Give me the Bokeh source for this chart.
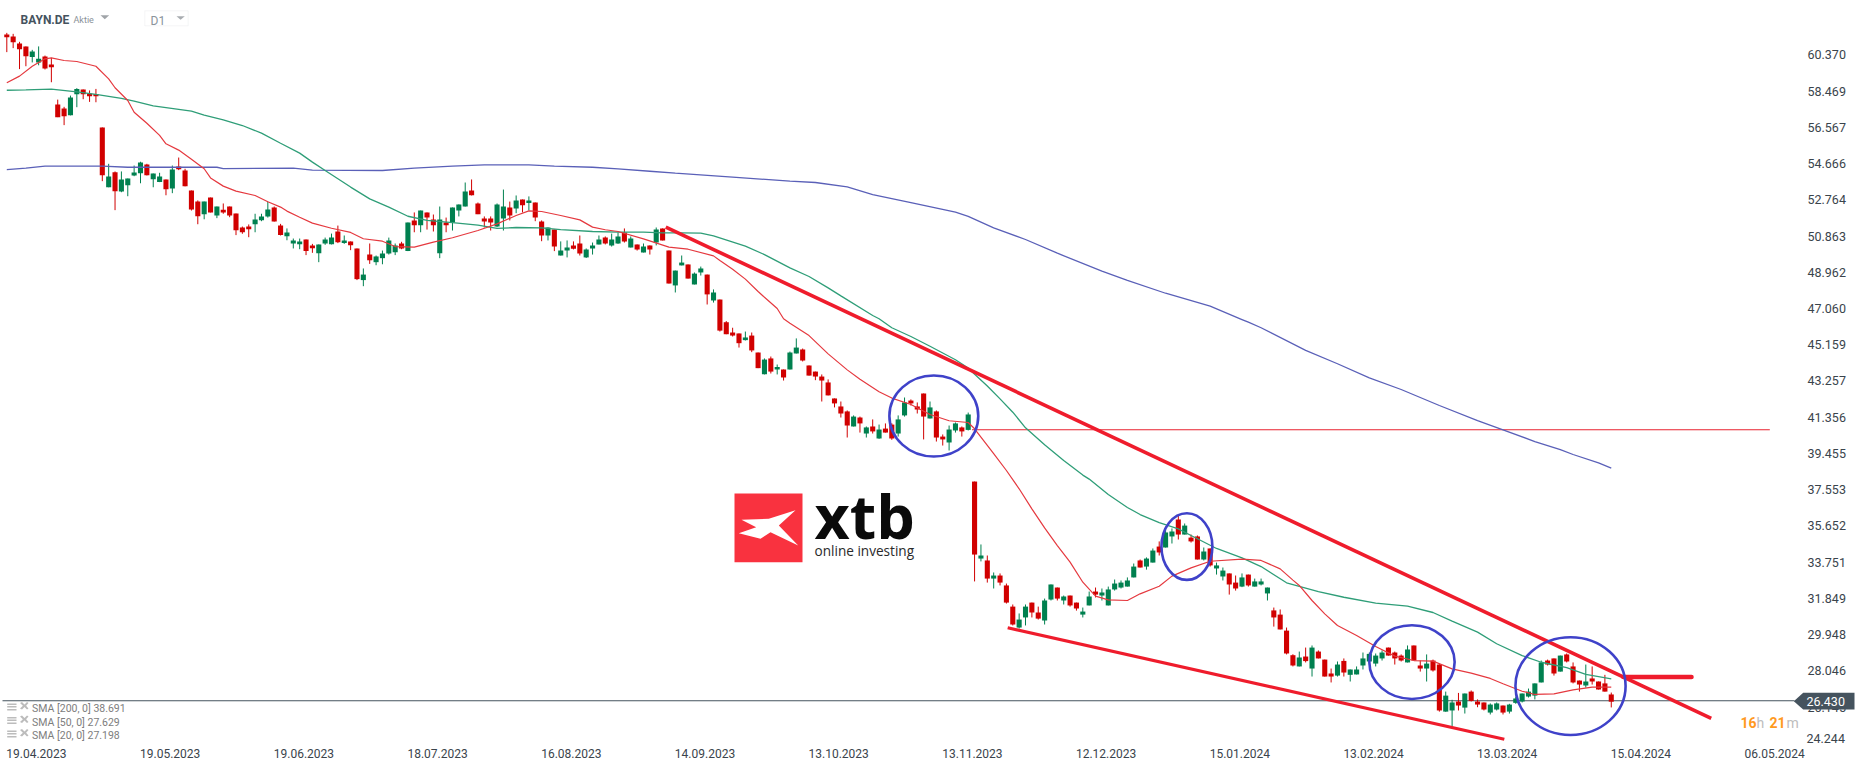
from bokeh.plotting import figure
from bokeh.models import (Range1d, LinearAxis, FixedTicker, NumeralTickFormatter, Label,
                          PolyAnnotation, ColumnDataSource)
from bokeh.embed import file_html
from bokeh.resources import INLINE

OPEN = [61.44,61.33,60.96,60.81,60.25,59.97,60.28,59.86,57.76,57.55,
57.20,58.30,58.55,58.34,58.32,56.56,53.42,54.21,53.20,53.53,
54.04,54.16,54.61,53.84,53.69,53.83,53.36,54.51,54.30,53.25,
52.67,52.01,52.88,51.94,52.24,52.41,52.04,51.31,51.36,51.48,
51.69,51.89,52.36,51.41,50.85,50.47,50.43,50.68,50.37,49.96,
50.47,50.43,51.10,50.49,50.58,50.21,48.55,49.89,49.49,49.70,
49.95,50.01,50.47,50.07,51.68,51.43,52.10,51.73,49.96,51.57,
51.57,52.20,52.41,53.25,52.57,51.78,51.78,51.36,51.78,52.36,
52.31,52.78,52.59,52.62,51.62,50.89,51.20,49.84,50.10,50.37,
50.47,49.74,50.21,50.42,50.78,50.37,50.47,51.05,50.26,50.42,
50.00,50.37,50.52,51.26,50.10,48.27,49.32,49.37,48.32,48.95,
48.84,47.48,47.53,46.34,45.80,45.75,45.40,45.64,44.75,43.61,
44.44,43.86,43.86,43.86,44.70,44.91,44.07,43.75,43.49,43.18,
42.34,41.92,41.66,40.87,41.34,40.50,40.87,40.24,40.76,40.97,
40.50,41.45,42.23,41.92,42.60,41.29,41.66,40.34,40.03,40.66,
40.82,40.69,37.98,33.94,33.84,32.89,33.05,32.53,31.42,30.32,
30.85,31.63,31.11,30.69,31.79,32.42,31.74,32.00,31.63,31.00,
31.48,32.21,32.00,31.48,32.32,32.42,32.47,32.95,33.84,33.52,
33.73,34.57,34.52,35.10,35.99,35.20,35.04,35.10,33.89,34.47,
33.42,33.00,33.16,32.68,32.47,33.10,32.47,32.58,32.11,31.22,
31.00,30.16,28.87,28.28,28.80,28.17,29.06,28.64,27.91,27.80,
28.57,27.84,27.86,28.33,28.54,28.43,28.70,29.27,29.01,28.85,
28.49,29.38,28.33,28.17,28.59,28.38,25.91,25.97,26.44,26.12,
26.96,26.44,26.39,25.86,26.02,26.23,25.91,26.37,26.44,26.70,
26.75,27.44,28.59,28.70,28.01,28.91,28.28,27.54,27.28,27.65,
27.49,27.39,26.81]

CLOSE = [61.29,61.03,60.66,60.30,60.54,60.16,59.65,59.72,57.10,57.15,
58.13,58.58,58.30,58.20,58.20,54.05,53.98,53.21,53.83,53.88,
54.20,54.72,54.05,54.14,53.98,53.32,54.35,54.37,53.47,52.25,
51.90,52.67,52.10,52.41,52.10,51.94,51.17,51.06,51.22,51.73,
51.89,52.25,51.62,50.91,51.05,50.63,50.58,50.07,50.22,50.42,
50.68,50.78,50.54,50.63,50.38,48.60,48.84,49.59,49.79,49.95,
50.63,50.37,50.21,51.57,51.43,52.20,51.83,51.43,51.73,51.43,
52.36,52.52,53.20,53.00,52.01,51.62,51.57,52.52,52.41,51.94,
52.73,52.48,52.73,51.83,50.89,51.31,50.31,50.10,50.26,50.19,
49.95,50.16,50.37,50.68,50.47,50.68,50.84,50.58,50.73,50.16,
50.31,50.16,51.20,50.63,48.37,49.05,49.47,48.63,48.89,49.16,
47.80,47.90,45.90,45.71,45.64,45.24,45.54,44.86,43.93,44.38,
43.75,43.99,43.44,44.75,45.01,44.33,43.54,43.49,43.28,42.50,
42.08,41.55,40.92,41.39,41.03,40.82,40.61,40.71,40.55,40.24,
41.24,42.13,42.08,41.76,41.39,41.87,40.29,40.19,40.71,41.03,
40.61,41.50,34.15,34.10,32.89,33.05,32.68,31.63,30.48,30.74,
31.42,31.11,30.79,31.74,32.58,31.84,31.95,31.48,31.32,31.16,
31.95,32.05,32.16,32.32,32.63,32.68,32.79,33.52,33.47,33.94,
34.36,34.26,35.31,35.36,35.20,35.67,34.84,33.89,34.31,33.58,
33.58,33.31,32.58,32.37,32.95,32.53,32.74,32.74,32.42,30.85,
30.22,28.96,28.33,28.75,28.56,29.27,28.70,27.75,27.75,28.38,
27.96,28.12,28.12,28.70,28.94,28.85,29.01,28.85,28.70,28.59,
29.17,28.59,28.17,28.43,28.07,25.97,26.75,26.39,26.23,26.86,
26.47,26.28,26.02,26.28,26.34,25.86,26.28,26.60,26.86,26.96,
27.39,28.49,28.38,27.91,28.85,28.54,27.44,27.33,27.49,27.49,
27.07,26.96,26.43]

HIGH = [61.52,61.47,61.05,60.81,60.63,60.81,60.33,60.21,58.02,57.64,
58.23,58.62,58.55,58.50,58.58,56.56,54.65,54.25,54.25,53.88,
54.56,54.76,54.65,54.14,54.18,53.83,54.56,54.98,54.39,53.25,
52.73,52.67,52.88,52.41,52.57,52.41,52.04,51.36,51.47,52.03,
52.03,52.66,52.41,51.50,51.26,50.73,50.73,50.68,50.45,50.42,
50.78,50.99,51.41,50.89,50.58,50.21,49.16,50.47,49.84,50.10,
50.78,50.47,50.56,51.57,52.10,52.20,52.10,51.99,52.41,51.83,
52.36,52.52,53.67,53.83,52.62,51.89,51.89,52.57,53.30,52.67,
52.99,52.78,52.94,52.62,51.68,51.31,51.20,50.58,50.63,50.58,
50.89,50.21,50.52,50.89,50.84,50.99,51.05,51.26,50.84,50.42,
50.47,50.37,51.31,51.26,50.10,49.05,49.84,49.37,48.95,49.26,
48.84,48.06,47.53,46.40,46.05,45.75,45.85,45.80,44.75,44.44,
44.54,44.12,43.86,44.80,45.49,44.96,44.07,43.75,43.60,43.34,
42.34,42.18,41.71,41.45,41.39,40.87,41.24,40.97,41.03,41.04,
41.45,42.39,42.29,42.13,42.60,42.18,41.71,40.45,40.92,41.08,
40.87,41.60,37.98,34.68,34.10,33.21,33.16,32.63,31.53,31.06,
31.53,31.63,31.42,31.84,32.58,32.42,32.00,32.00,31.63,31.37,
32.21,32.42,32.37,32.47,32.84,32.79,32.95,33.68,33.89,34.00,
34.47,34.84,35.62,35.52,36.20,35.78,35.20,35.15,34.52,34.47,
33.73,33.47,33.16,33.05,33.16,33.10,32.89,32.89,32.42,31.37,
31.27,30.32,28.92,29.06,29.27,29.38,29.12,28.64,28.17,28.54,
28.70,28.12,28.28,29.01,29.01,28.96,29.12,29.27,29.06,28.91,
29.38,29.38,28.59,28.91,28.64,28.43,26.96,26.53,26.89,26.86,
27.02,26.55,26.39,26.34,26.39,26.23,26.32,26.70,26.86,27.12,
27.39,28.59,28.64,28.70,28.85,28.96,28.49,27.54,28.38,28.28,
27.49,27.84,26.91]

LOW = [60.51,60.72,59.62,59.77,59.97,59.82,59.60,58.93,57.10,56.68,
57.19,57.62,58.04,57.90,57.88,53.74,53.42,52.22,53.16,52.95,
54.00,53.63,54.04,53.42,53.69,53.00,53.11,54.32,53.47,52.20,
51.48,51.74,52.10,51.80,52.03,51.85,50.91,50.98,50.80,51.06,
51.64,51.83,51.62,50.89,50.64,50.21,50.17,49.86,49.98,49.49,
50.40,50.42,50.49,50.45,50.12,48.55,48.23,49.40,49.33,49.38,
49.89,49.86,50.17,50.07,51.06,51.06,51.20,51.10,49.70,51.06,
51.15,51.89,52.41,52.99,52.01,51.31,51.15,51.33,51.15,51.68,
52.06,52.10,52.20,51.64,50.59,50.63,50.07,49.84,49.74,50.16,
49.84,49.71,49.89,50.42,50.42,50.31,50.45,50.52,50.26,50.10,
50.00,49.89,50.37,50.63,48.37,47.90,49.32,48.63,48.32,48.79,
47.27,47.37,45.85,45.71,45.59,45.01,45.38,44.77,43.93,43.60,
43.65,43.60,43.28,43.86,44.70,44.28,43.54,43.30,42.18,42.50,
41.87,41.34,40.29,40.87,40.55,40.29,40.50,40.22,40.55,40.17,
40.34,41.39,41.97,41.55,40.19,41.29,40.08,39.87,39.61,40.55,
40.34,40.66,32.74,33.79,32.68,32.37,32.53,31.58,30.43,30.27,
30.43,30.85,30.74,30.48,31.74,31.74,31.53,31.42,31.21,30.85,
31.48,31.90,31.74,31.48,32.26,32.37,32.47,32.95,33.47,33.36,
33.73,34.10,34.52,34.73,34.94,35.20,34.78,33.89,33.84,33.52,
33.10,32.79,32.05,32.26,32.44,32.47,32.47,32.53,31.74,30.37,
30.22,28.91,28.28,28.28,28.49,27.75,28.70,27.75,27.44,27.75,
27.75,27.49,27.86,28.12,28.38,28.28,28.59,28.85,28.38,28.54,
28.49,28.59,28.01,27.49,28.01,25.91,25.90,25.13,25.97,25.81,
26.44,26.14,25.97,25.76,25.97,25.76,25.81,26.32,26.39,26.65,
26.55,27.44,28.33,27.80,28.01,28.49,27.39,26.96,27.17,27.33,
27.07,26.96,26.13]

SMA20_I = [0,2,4,6,7,9,11,14,16,17,19,20,22,24,25,27,29,31,32,34,36,39,41,43,44,46,48,51,54,56,59,61,64,67,70,74,77,80,82,84,87,90,92,94,96,
100,104,107,111,112,114,116,118,119,121,122,123,126,129,132,134,137,139,142,145,148,151,152,155,157,159,161,163,165,167,169,171,173,176,178,181,183,186,189,194,
197,200,202,203,205,207,209,212,215,218,221,224,227,230,233,235,238,240,243,246,249,252]
SMA20_V = [58.90,59.25,59.77,60.16,60.21,60.07,60.02,59.77,59.11,58.64,57.97,57.36,56.78,56.14,55.70,55.37,54.89,54.39,53.91,53.48,53.22,52.99,52.66,52.38,52.17,51.85,51.54,51.27,51.05,50.72,50.59,50.31,50.28,50.54,50.77,51.15,51.50,51.94,52.18,52.15,51.94,51.71,51.33,51.19,51.10,
50.71,50.28,50.17,49.82,49.58,49.12,48.60,47.95,47.65,47.06,46.52,46.29,45.64,44.68,43.84,43.35,42.69,42.36,42.02,41.50,41.17,41.08,40.75,39.44,38.56,37.60,36.55,35.55,34.62,33.75,32.70,31.97,31.77,31.74,32.09,32.49,33.02,33.45,33.80,33.91,
33.84,33.40,32.81,32.53,31.74,31.04,30.43,29.90,29.33,28.82,28.59,28.56,28.15,27.93,27.65,27.37,26.98,26.81,26.84,27.05,27.19,27.20]

SMA50_I = [0,3,7,11,14,18,20,23,29,31,34,37,40,43,46,48,50,54,57,60,63,66,70,74,77,80,84,87,92,96,
100,103,106,109,111,116,119,123,126,129,131,136,137,139,142,145,149,151,154,156,158,160,163,166,169,170,173,176,178,181,184,186,190,194,
197,201,206,210,215,220,224,227,231,234,238,241,245,248,252]
SMA50_V = [58.51,58.53,58.57,58.43,58.29,58.08,57.94,57.69,57.41,57.20,56.96,56.66,56.26,55.73,55.21,54.74,54.30,53.43,52.81,52.38,51.90,51.68,51.57,51.43,51.26,51.31,51.29,51.20,51.10,51.07,
51.07,51.03,51.03,51.01,50.87,50.33,49.89,49.19,48.74,48.14,47.72,46.69,46.52,46.05,45.59,45.08,44.37,43.93,42.99,42.32,41.62,40.80,39.91,39.08,38.32,38.11,37.30,36.62,36.25,35.83,35.50,35.15,34.47,33.98,
33.52,32.67,32.21,31.91,31.60,31.44,31.11,30.66,30.08,29.47,28.85,28.50,28.22,27.86,27.63]

SMA200_I = [0,3,6,15,19,33,34,45,48,59,64,70,75,82,86,92,96,
101,105,114,123,127,132,136,142,149,151,155,160,165,172,176,182,189,194,
195,197,204,209,214,219,225,231,235,240,244,246,250,252]
SMA200_V = [54.35,54.42,54.53,54.53,54.47,54.47,54.40,54.42,54.32,54.30,54.42,54.53,54.60,54.60,54.53,54.47,54.39,
54.26,54.16,53.95,53.74,53.67,53.44,53.04,52.62,52.11,51.89,51.29,50.68,49.96,49.02,48.53,47.86,47.18,46.48,
46.34,46.05,44.86,44.16,43.42,42.81,41.97,41.18,40.69,40.08,39.66,39.40,38.96,38.69]

Y_TICKS = [60.370,58.469,56.567,54.666,52.764,50.863,48.962,47.060,45.159,43.257,41.356,39.455,37.553,35.652,33.751,31.849,29.948,28.046,26.145]
LOW_TICK = 24.244
X_TICK_POS = [4.66,25.66,46.66,67.66,88.66,109.66,130.66,151.66,172.66,193.66,214.66,235.66,256.66,277.66]
X_TICK_LAB = ["19.04.2023","19.05.2023","19.06.2023","18.07.2023","16.08.2023","14.09.2023","13.10.2023","13.11.2023","12.12.2023","15.01.2024","13.02.2024","13.03.2024","15.04.2024","06.05.2024"]

TREND_UP_I, TREND_UP_P = [103.5,267.7],[51.33,25.56]
TREND_LOW_I, TREND_LOW_P = [157.2,235.2],[30.31,24.46]
RESIST_I, RESIST_P = [151.6,276.9],[40.70,40.70]
MARK_I, MARK_P = [253.9,264.6],[27.73,27.73]
CURRENT = 26.430
CIRCLE_I = [145.6,185.35,220.7,245.6]
CIRCLE_P = [41.42,34.57,28.51,27.25]
CIRCLE_W = [13.96,8.0,13.4,17.3]
CIRCLE_H = [4.25,3.5,3.87,5.13]

RED, GREEN = "#d10000", "#00804f"
TREND_RED = "#ef1c2c"

FW, FH = 1866, 767
X0, X1 = -0.989, 292.087
Y1, Y0 = 63.219, 22.978

def px_x(v): return X0 + v * (X1 - X0) / FW
def px_y(v): return Y1 - v * (Y1 - Y0) / FH

p = figure(width=1866, height=767, output_backend="svg", toolbar_location=None,
           x_range=Range1d(X0, X1), y_range=Range1d(Y0, Y1),
           min_border_left=0, min_border_right=0, min_border_top=0, min_border_bottom=0,
           y_axis_location=None, x_axis_location=None, margin=(0, 0, 0, 0))
p.outline_line_color = None
p.grid.visible = False
p.background_fill_color = "white"

xa = LinearAxis(ticker=FixedTicker(ticks=X_TICK_POS), fixed_location=px_y(740))
xa.major_label_overrides = dict(zip(X_TICK_POS, X_TICK_LAB))
xa.axis_line_color = None
xa.major_tick_line_color = None
xa.minor_tick_line_color = None
xa.major_label_standoff = 2
xa.major_label_text_font = "Roboto"
xa.major_label_text_font_size = "12px"
xa.major_label_text_color = "#3a444c"
p.add_layout(xa, "below")

ya = LinearAxis(ticker=FixedTicker(ticks=Y_TICKS), formatter=NumeralTickFormatter(format="0.000"),
                fixed_location=px_x(1800))
ya.axis_line_color = None
ya.major_tick_line_color = None
ya.minor_tick_line_color = None
ya.major_label_standoff = 1
ya.major_label_text_font = "Roboto"
ya.major_label_text_font_size = "12.5px"
ya.major_label_text_color = "#3a444c"
p.add_layout(ya, "right")

idx = list(range(len(OPEN)))
colors = [GREEN if c >= o else RED for o, c in zip(OPEN, CLOSE)]
src = ColumnDataSource(dict(x=idx, o=OPEN, h=HIGH, l=LOW, c=CLOSE, col=colors))

# current price line
p.segment(px_x(2), CURRENT + 0.05, px_x(1794), CURRENT + 0.05, line_color="#45535e", line_width=1.2)
# horizontal resistance
p.line(RESIST_I, RESIST_P, line_color="#e8222f", line_width=1.1)

p.segment("x", "h", "x", "l", source=src, line_color="col", line_width=1)
p.vbar("x", 0.8, "o", "c", source=src, fill_color="col", line_color=None)

p.line(SMA200_I, SMA200_V, line_color="#5a60b8", line_width=1.3)
p.line(SMA50_I, SMA50_V, line_color="#2f9e78", line_width=1.3)
p.line(SMA20_I, SMA20_V, line_color="#e5393f", line_width=1.2)

p.line(TREND_UP_I, TREND_UP_P, line_color=TREND_RED, line_width=3.6)
p.line(TREND_LOW_I, TREND_LOW_P, line_color=TREND_RED, line_width=3.2)
p.line(MARK_I, MARK_P, line_color=TREND_RED, line_width=4.6, line_cap="round")

p.ellipse(CIRCLE_I, CIRCLE_P, width=CIRCLE_W, height=CIRCLE_H, fill_color=None,
          line_color="#3f42c9", line_width=2.6)

def txt(x, y, s, size, color, font="Roboto", style="normal", align="left"):
    p.add_layout(Label(x=px_x(x), y=px_y(y), text=s, text_font=font, text_font_size=size,
                       text_color=color, text_font_style=style, text_baseline="middle", text_align=align))

def poly(xs, ys, fill, line=None, lw=1):
    p.add_layout(PolyAnnotation(xs=[px_x(v) for v in xs], ys=[px_y(v) for v in ys],
                                fill_color=fill, fill_alpha=1 if fill else 0,
                                line_color=line, line_width=lw))

# header
txt(20, 19.5, "BAYN.DE", "12px", "#45535e", style="bold")
txt(73, 19.5, "Aktie", "9px", "#8a9298")
poly([100, 108.7, 104.3], [14.7, 14.7, 18.7], "#a0a4a8")
poly([144.3, 187.7, 187.7, 144.3], [10.3, 10.3, 25.3, 25.3], None, "#dfe1e3", 1)
txt(150, 20, "D1", "12px", "#8a949b")
poly([176, 184.3, 180.1], [15.7, 15.7, 19.3], "#a8acb0")

# indicator legend
for yc, s in zip([708, 721.5, 735], ["SMA [200, 0] 38.691", "SMA [50, 0] 27.629", "SMA [20, 0] 27.198"]):
    txt(31.5, yc, s, "10.5px", "#7d7d7d")
    for dy in (-5, -2.5, 0.5):
        poly([6.7, 16, 16, 6.7], [yc + dy, yc + dy, yc + dy + 1.4, yc + dy + 1.4], "#bcbcbc")
    poly([19.5, 21.5, 24, 26.5, 28, 25.6, 28, 26.5, 24, 21.5, 19.5, 22.4],
         [yc - 5.5, yc - 6.5, yc - 4, yc - 6.5, yc - 5.5, yc - 2.8, yc, yc + 1, yc - 1.5, yc + 1, yc, yc - 2.8], "#bcbcbc")

# logo
poly([734, 802, 802, 734], [493, 493, 561.7, 561.7], "#f9323f")
poly([741, 768.3, 795, 778.3, 797.7, 770, 760, 738.3, 755.7],
     [519.3, 518.3, 509.7, 525, 545, 531.7, 538.3, 532.7, 526.7], "#ffffff")
txt(814, 515, "xtb", "61px", "#0a0a0a", font="Open Sans", style="bold")
txt(814, 549.5, "online investing", "13.6px", "#2a2a2a", font="Open Sans")

# current price flag
poly([1793.3, 1802.7, 1854, 1854, 1802.7], [700.7, 692.3, 692.3, 709, 709], "#45535e")
txt(1806, 701, "26.430", "12.5px", "#ffffff")

# axis-bottom price label, pushed up as in the platform
txt(1806, 737.5, f"{LOW_TICK:.3f}", "12.5px", "#3a444c")

# countdown
txt(1740, 722, "16", "14px", "#ff9a1f", style="bold")
txt(1756, 722, "h", "14px", "#bdbdbd")
txt(1769, 722, "21", "14px", "#ff9a1f", style="bold")
txt(1786, 722, "m", "14px", "#bdbdbd")

open("out.html", "w").write(file_html(p, INLINE))
